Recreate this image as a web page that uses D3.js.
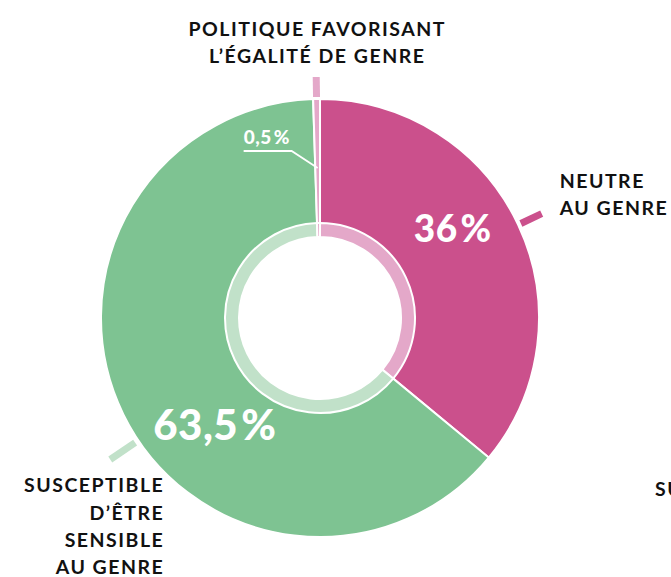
<!DOCTYPE html>
<html>
<head>
<meta charset="utf-8">
<script src="https://cdn.jsdelivr.net/npm/d3@7"></script>
<style>
  body { margin: 0; background: #fff; }
  svg { display: block; }
  .cat { font-family: Lato, sans-serif; font-weight: 700; font-size: 19.5px; letter-spacing: 1.5px; fill: #111; }
  .val { font-family: Lato, sans-serif; font-weight: 900; fill: #fff; }
</style>
</head>
<body>
<svg width="671" height="577"></svg>
<script>
// pie order: clockwise from 12 o'clock
var categories = ["Neutre au genre", "Susceptible d'être sensible au genre", "Politique favorisant l'égalité de genre"];
var shares = [36, 63.5, 0.5];
var valueLabels = ["36\u200A%", "63,5\u200A%", "0,5\u200A%"];
var labelLines = [
    ["NEUTRE", "AU GENRE"],
    ["SUSCEPTIBLE", "D\u2019ÊTRE", "SENSIBLE", "AU GENRE"],
    ["POLITIQUE FAVORISANT", "L\u2019ÉGALITÉ DE GENRE"]
];
var colors = ["#cb508c", "#7ec392", "#e4a8c9"];
var ringColors = ["#e4a8c9", "#c1e1c9", "#e4a8c9"];
var tickColors = ["#cb508c", "#c1e1c9", "#e4a8c9"];

var svg = d3.select("svg"),
    cx = 320, cy = 318,
    rOuter = 219, rInner = 81, rRing = 95,
    g = svg.append("g").attr("transform", "translate(" + cx + "," + cy + ")");

var pie = d3.pie().sort(null).value(function(d) { return d; });
var arcs = pie(shares);

var arc = d3.arc().innerRadius(rInner).outerRadius(rOuter);
var ringArc = d3.arc().innerRadius(rInner).outerRadius(rRing);

// layout of the labels (angle in degrees clockwise from top, null = middle of slice)
var layout = [
    {tickAngle: null, tick: [222, 245], valAngle: 56, valR: 160, valSize: 37, anchor: "start", dx: 18, dy: -26},
    {tickAngle: 236, tick: [223, 253], valAngle: 224.5, valR: 150, valSize: 42, anchor: "end", dx: 54, dy: 33},
    {tickAngle: null, tick: [221, 241], valSize: 19, anchor: "middle", dx: 1, dy: -14}
];

function polar(angleDeg, r) {
    var a = angleDeg * Math.PI / 180;
    return [r * Math.sin(a), -r * Math.cos(a)];
}
function midDeg(d) { return (d.startAngle + d.endAngle) / 2 * 180 / Math.PI; }

g.selectAll(".slice")
    .data(arcs)
  .enter().append("path")
    .attr("class", "slice")
    .attr("d", arc)
    .attr("fill", function(d, i) { return colors[i]; })
    .attr("stroke", "#fff")
    .attr("stroke-width", 2);

g.selectAll(".ring")
    .data(arcs)
  .enter().append("path")
    .attr("class", "ring")
    .attr("d", ringArc)
    .attr("fill", function(d, i) { return ringColors[i]; })
    .attr("stroke", "#fff")
    .attr("stroke-width", 2);

// ticks towards the category labels
arcs.forEach(function(d, i) {
    var L = layout[i];
    var ang = L.tickAngle === null ? midDeg(d) : L.tickAngle;
    var p0 = polar(ang, L.tick[0]), p1 = polar(ang, L.tick[1]);
    g.append("line")
        .attr("x1", p0[0]).attr("y1", p0[1])
        .attr("x2", p1[0]).attr("y2", p1[1])
        .attr("stroke", tickColors[i])
        .attr("stroke-width", 7);

    var t = g.append("text")
        .attr("class", "cat")
        .attr("text-anchor", L.anchor);
    var n = labelLines[i].length;
    labelLines[i].forEach(function(line, k) {
        var baseY = L.anchor === "middle" ? p1[1] + L.dy - (n - 1 - k) * 27 : p1[1] + L.dy + k * 27.2;
        t.append("tspan")
            .attr("x", p1[0] + L.dx)
            .attr("y", baseY)
            .text(line);
    });
});

// value labels inside the big slices
arcs.forEach(function(d, i) {
    var L = layout[i];
    if (L.valAngle === undefined) return;
    var p = polar(L.valAngle, L.valR);
    g.append("text")
        .attr("class", "val")
        .attr("text-anchor", "middle")
        .attr("x", p[0])
        .attr("y", p[1] + L.valSize * 0.36)
        .style("font-size", L.valSize + "px")
        .style("letter-spacing", "0.5px")
        .text(valueLabels[i]);
});

// small slice: label with a leader line
var small = arcs[2];
var tip = polar(midDeg(small), 150);
var elbow = [tip[0] - 26, tip[1] - 17];
var lineStart = [elbow[0] - 48, elbow[1]];
g.append("polyline")
    .attr("points", [lineStart, elbow, tip].map(function(p) { return p.join(","); }).join(" "))
    .attr("fill", "none")
    .attr("stroke", "#fff")
    .attr("stroke-width", 1.8);
g.append("text")
    .attr("class", "val")
    .attr("x", lineStart[0])
    .attr("y", lineStart[1] - 7)
    .style("font-size", layout[2].valSize + "px")
    .style("letter-spacing", "0.6px")
    .text(valueLabels[2]);

// neighbouring chart label, cut by the frame
svg.append("text")
    .attr("class", "cat")
    .attr("x", 655)
    .attr("y", 496)
    .text("SUSCEPTIBLE");
</script>
</body>
</html>
